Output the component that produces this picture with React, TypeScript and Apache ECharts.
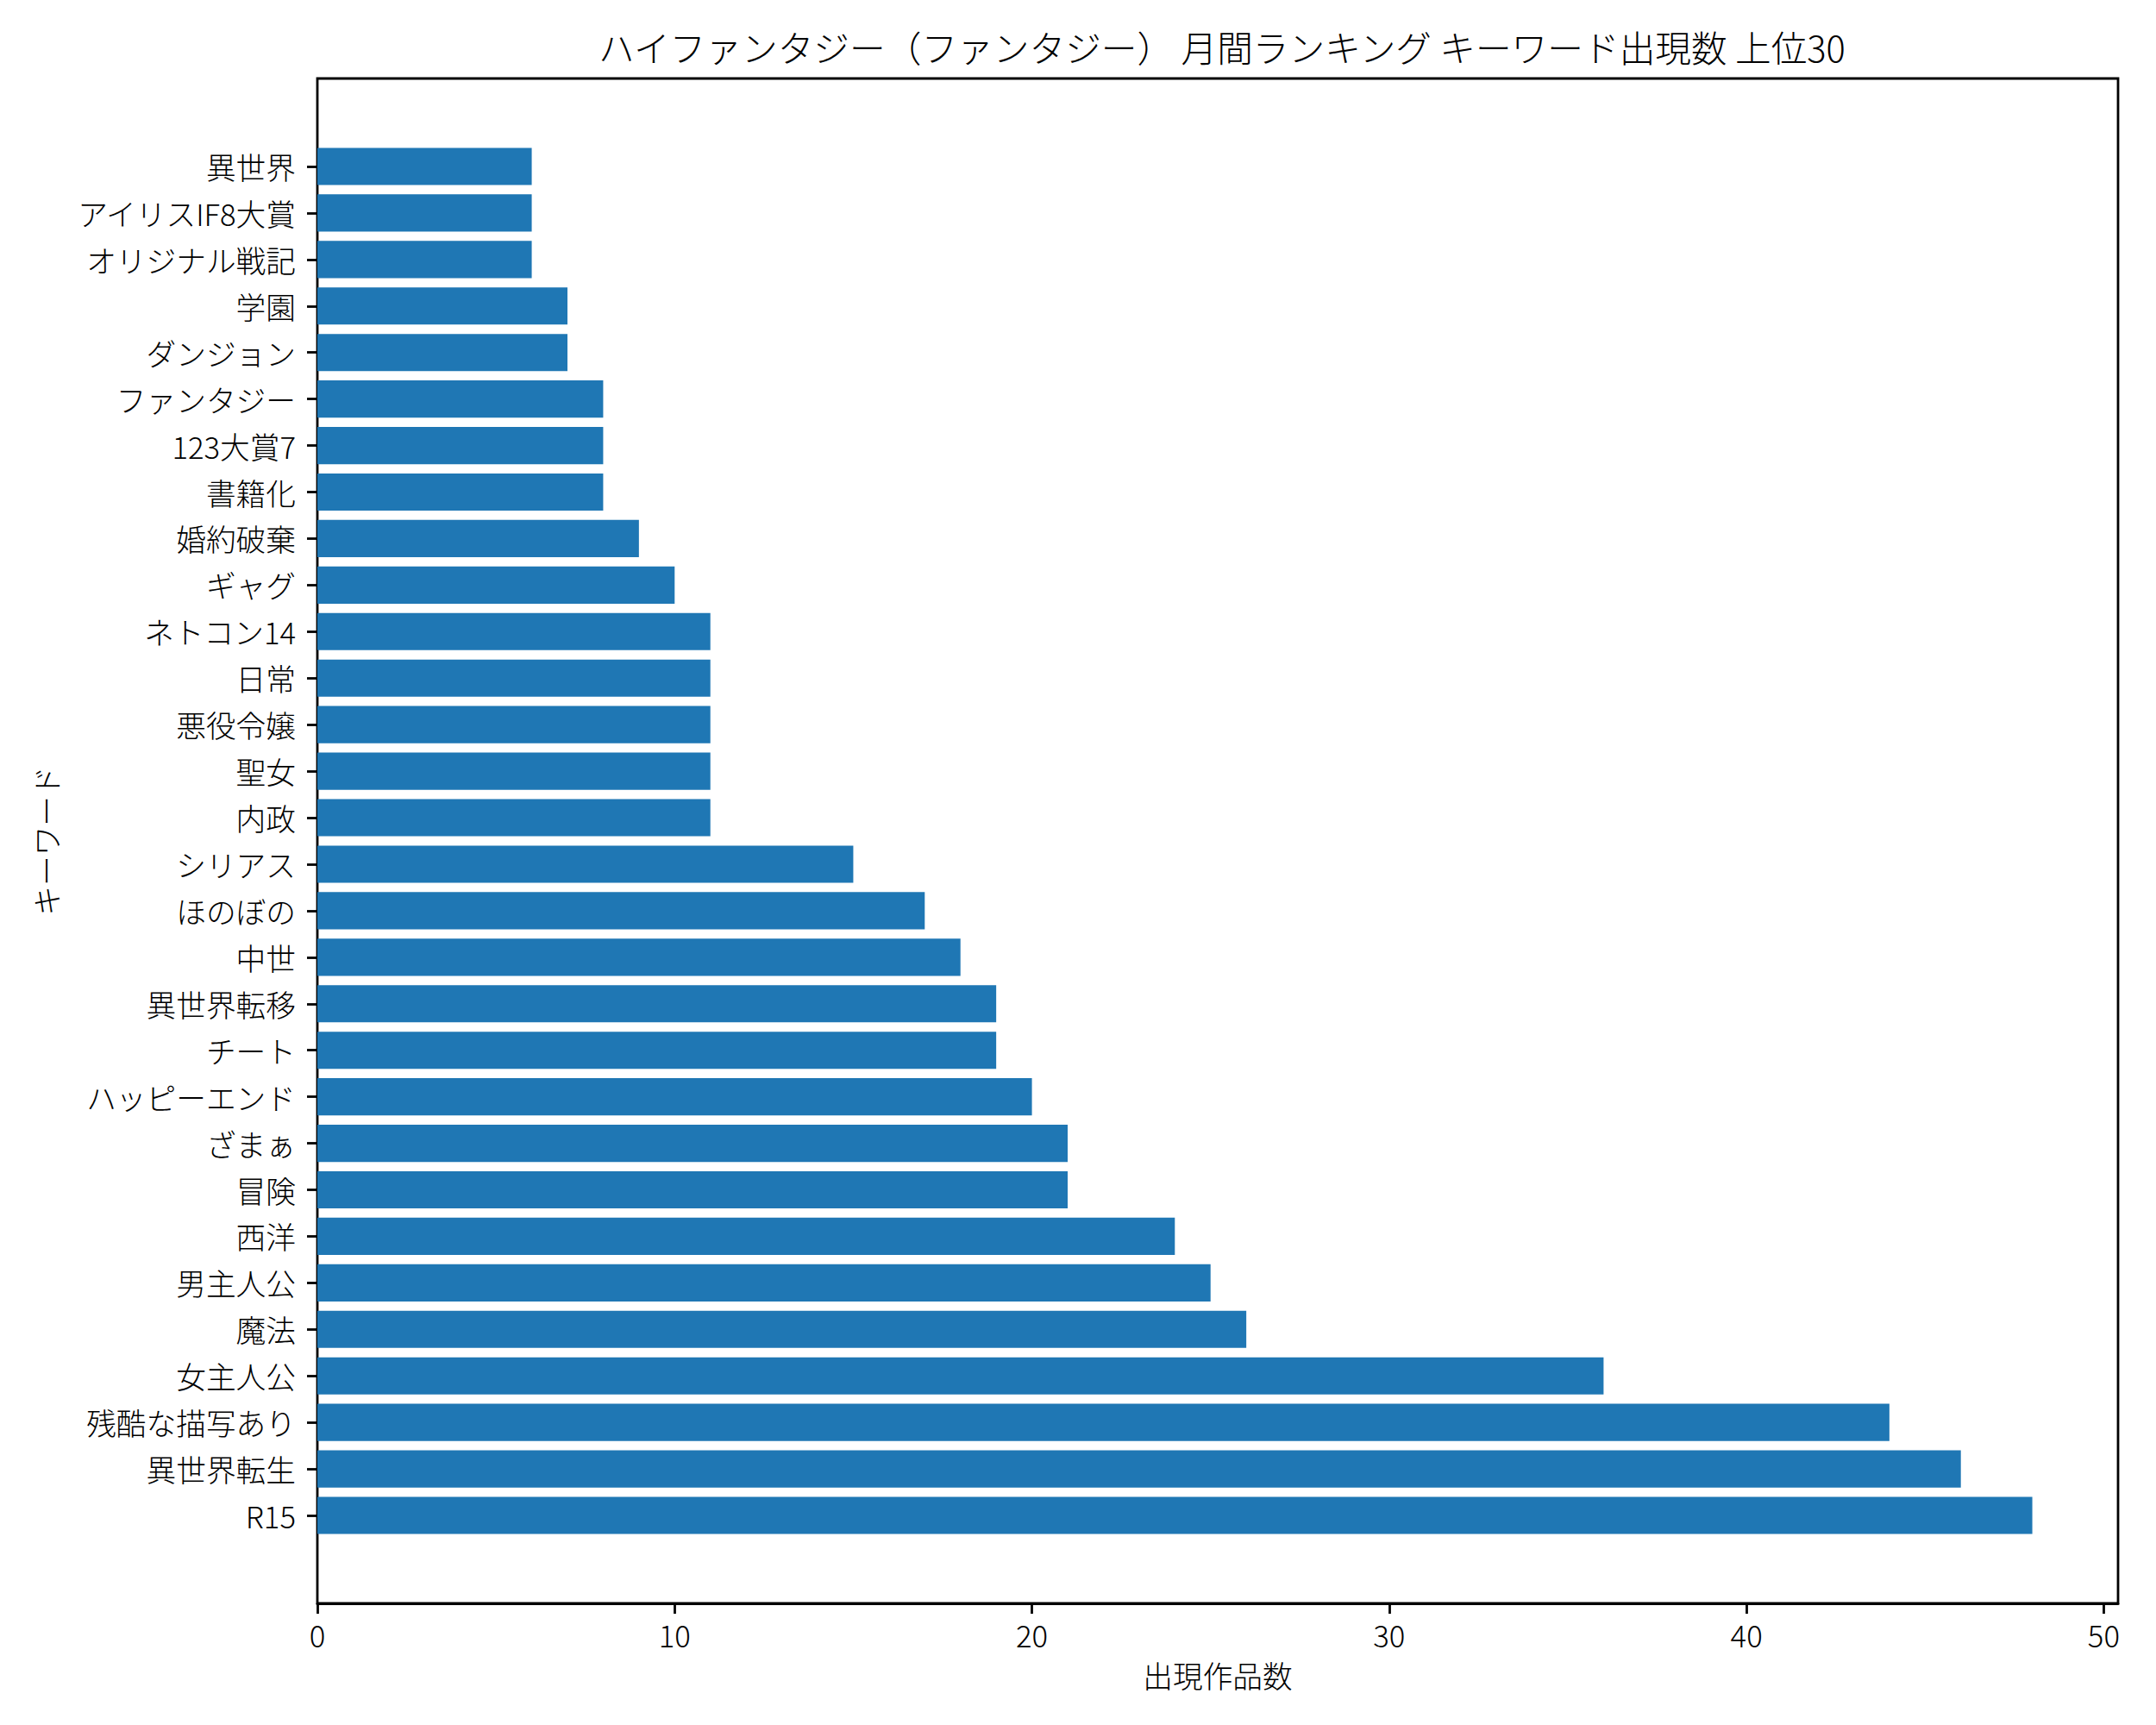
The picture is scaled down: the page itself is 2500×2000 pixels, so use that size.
import React, { useEffect, useRef } from "react";
import * as echarts from "echarts";

const categories: string[] = [
  "R15", "異世界転生", "残酷な描写あり", "女主人公", "魔法", "男主人公", "西洋", "冒険", "ざまぁ", "ハッピーエンド",
  "チート", "異世界転移", "中世", "ほのぼの", "シリアス", "内政", "聖女", "悪役令嬢", "日常", "ネトコン14",
  "ギャグ", "婚約破棄", "書籍化", "123大賞7", "ファンタジー", "ダンジョン", "学園", "オリジナル戦記", "アイリスIF8大賞", "異世界",
];
const counts: number[] = [
  48, 46, 44, 36, 26, 25, 24, 21, 21, 20,
  19, 19, 18, 17, 15, 11, 11, 11, 11, 11,
  10, 9, 8, 8, 8, 7, 7, 6, 6, 6,
];
const xTickValues: number[] = [0, 10, 20, 30, 40, 50];
const xMin = 0;
const xMax = 50.4;
const titleText = "ハイファンタジー（ファンタジー） 月間ランキング キーワード出現数 上位30";
const xName = "出現作品数";
const yName = "キーワード";

const FONT = "'Noto Sans CJK JP', 'Noto Sans', sans-serif";
const FW = 300;
const FS = 34.7;
const LW = 2.8;

export default function App() {
  const ref = useRef<HTMLDivElement>(null);
  useEffect(() => {
    if (!ref.current) return;
    const chart = echarts.init(ref.current, undefined, { renderer: "svg" });
    const plotLeft = 368, plotTop = 91, plotW = 2088, plotH = 1768;
    const bandTop = 166, bandH = 1618;
    chart.setOption({
      animation: false,
      backgroundColor: "#ffffff",
      textStyle: { fontFamily: FONT },
      title: {
        text: titleText,
        left: plotLeft + plotW / 2,
        textAlign: "center",
        top: 28,
        textStyle: { fontFamily: FONT, fontSize: 41.7, fontWeight: FW, color: "#000" },
      },
      grid: [
        { left: plotLeft, top: plotTop, width: plotW, height: plotH, show: true, borderColor: "#000", borderWidth: LW, backgroundColor: "transparent" },
        { left: plotLeft, top: bandTop, width: plotW, height: bandH },
      ],
      xAxis: [
        {
          gridIndex: 0,
          type: "value",
          min: xMin,
          max: xMax,
          name: xName,
          nameLocation: "middle",
          nameGap: 66,
          nameTextStyle: { fontFamily: FONT, fontSize: FS, fontWeight: FW, color: "#000" },
          axisLine: { show: true, lineStyle: { color: "#000", width: LW } },
          axisTick: { show: true, customValues: xTickValues, length: 12, lineStyle: { color: "#000", width: LW } },
          axisLabel: { customValues: xTickValues, fontFamily: FONT, fontSize: FS, fontWeight: FW, color: "#000", margin: 19 },
          splitLine: { show: false },
        },
        {
          gridIndex: 1,
          type: "value",
          min: xMin,
          max: xMax,
          show: false,
        },
      ],
      yAxis: [
        {
          gridIndex: 0,
          type: "value",
          min: 0,
          max: 1,
          name: yName,
          nameLocation: "middle",
          nameGap: 298,
          nameRotate: 90,
          nameTextStyle: { fontFamily: FONT, fontSize: FS, fontWeight: FW, color: "#000" },
          axisLine: { show: false },
          axisTick: { show: false },
          axisLabel: { show: false },
          splitLine: { show: false },
        },
        {
          gridIndex: 1,
          type: "category",
          data: categories,
          axisLine: { show: false },
          axisTick: { show: true, alignWithLabel: true, length: 12, lineStyle: { color: "#000", width: LW } },
          axisLabel: { interval: 0, fontFamily: FONT, fontSize: FS, fontWeight: FW, color: "#000", margin: 25 },
          splitLine: { show: false },
        },
      ],
      series: [
        {
          type: "bar",
          xAxisIndex: 1,
          yAxisIndex: 1,
          data: counts,
          barWidth: "80%",
          itemStyle: { color: "#1f77b4" },
        },
      ],
    });
    return () => chart.dispose();
  }, []);
  return <div ref={ref} style={{ position: "fixed", left: 0, top: 0, width: 2500, height: 2000 }} />;
}
